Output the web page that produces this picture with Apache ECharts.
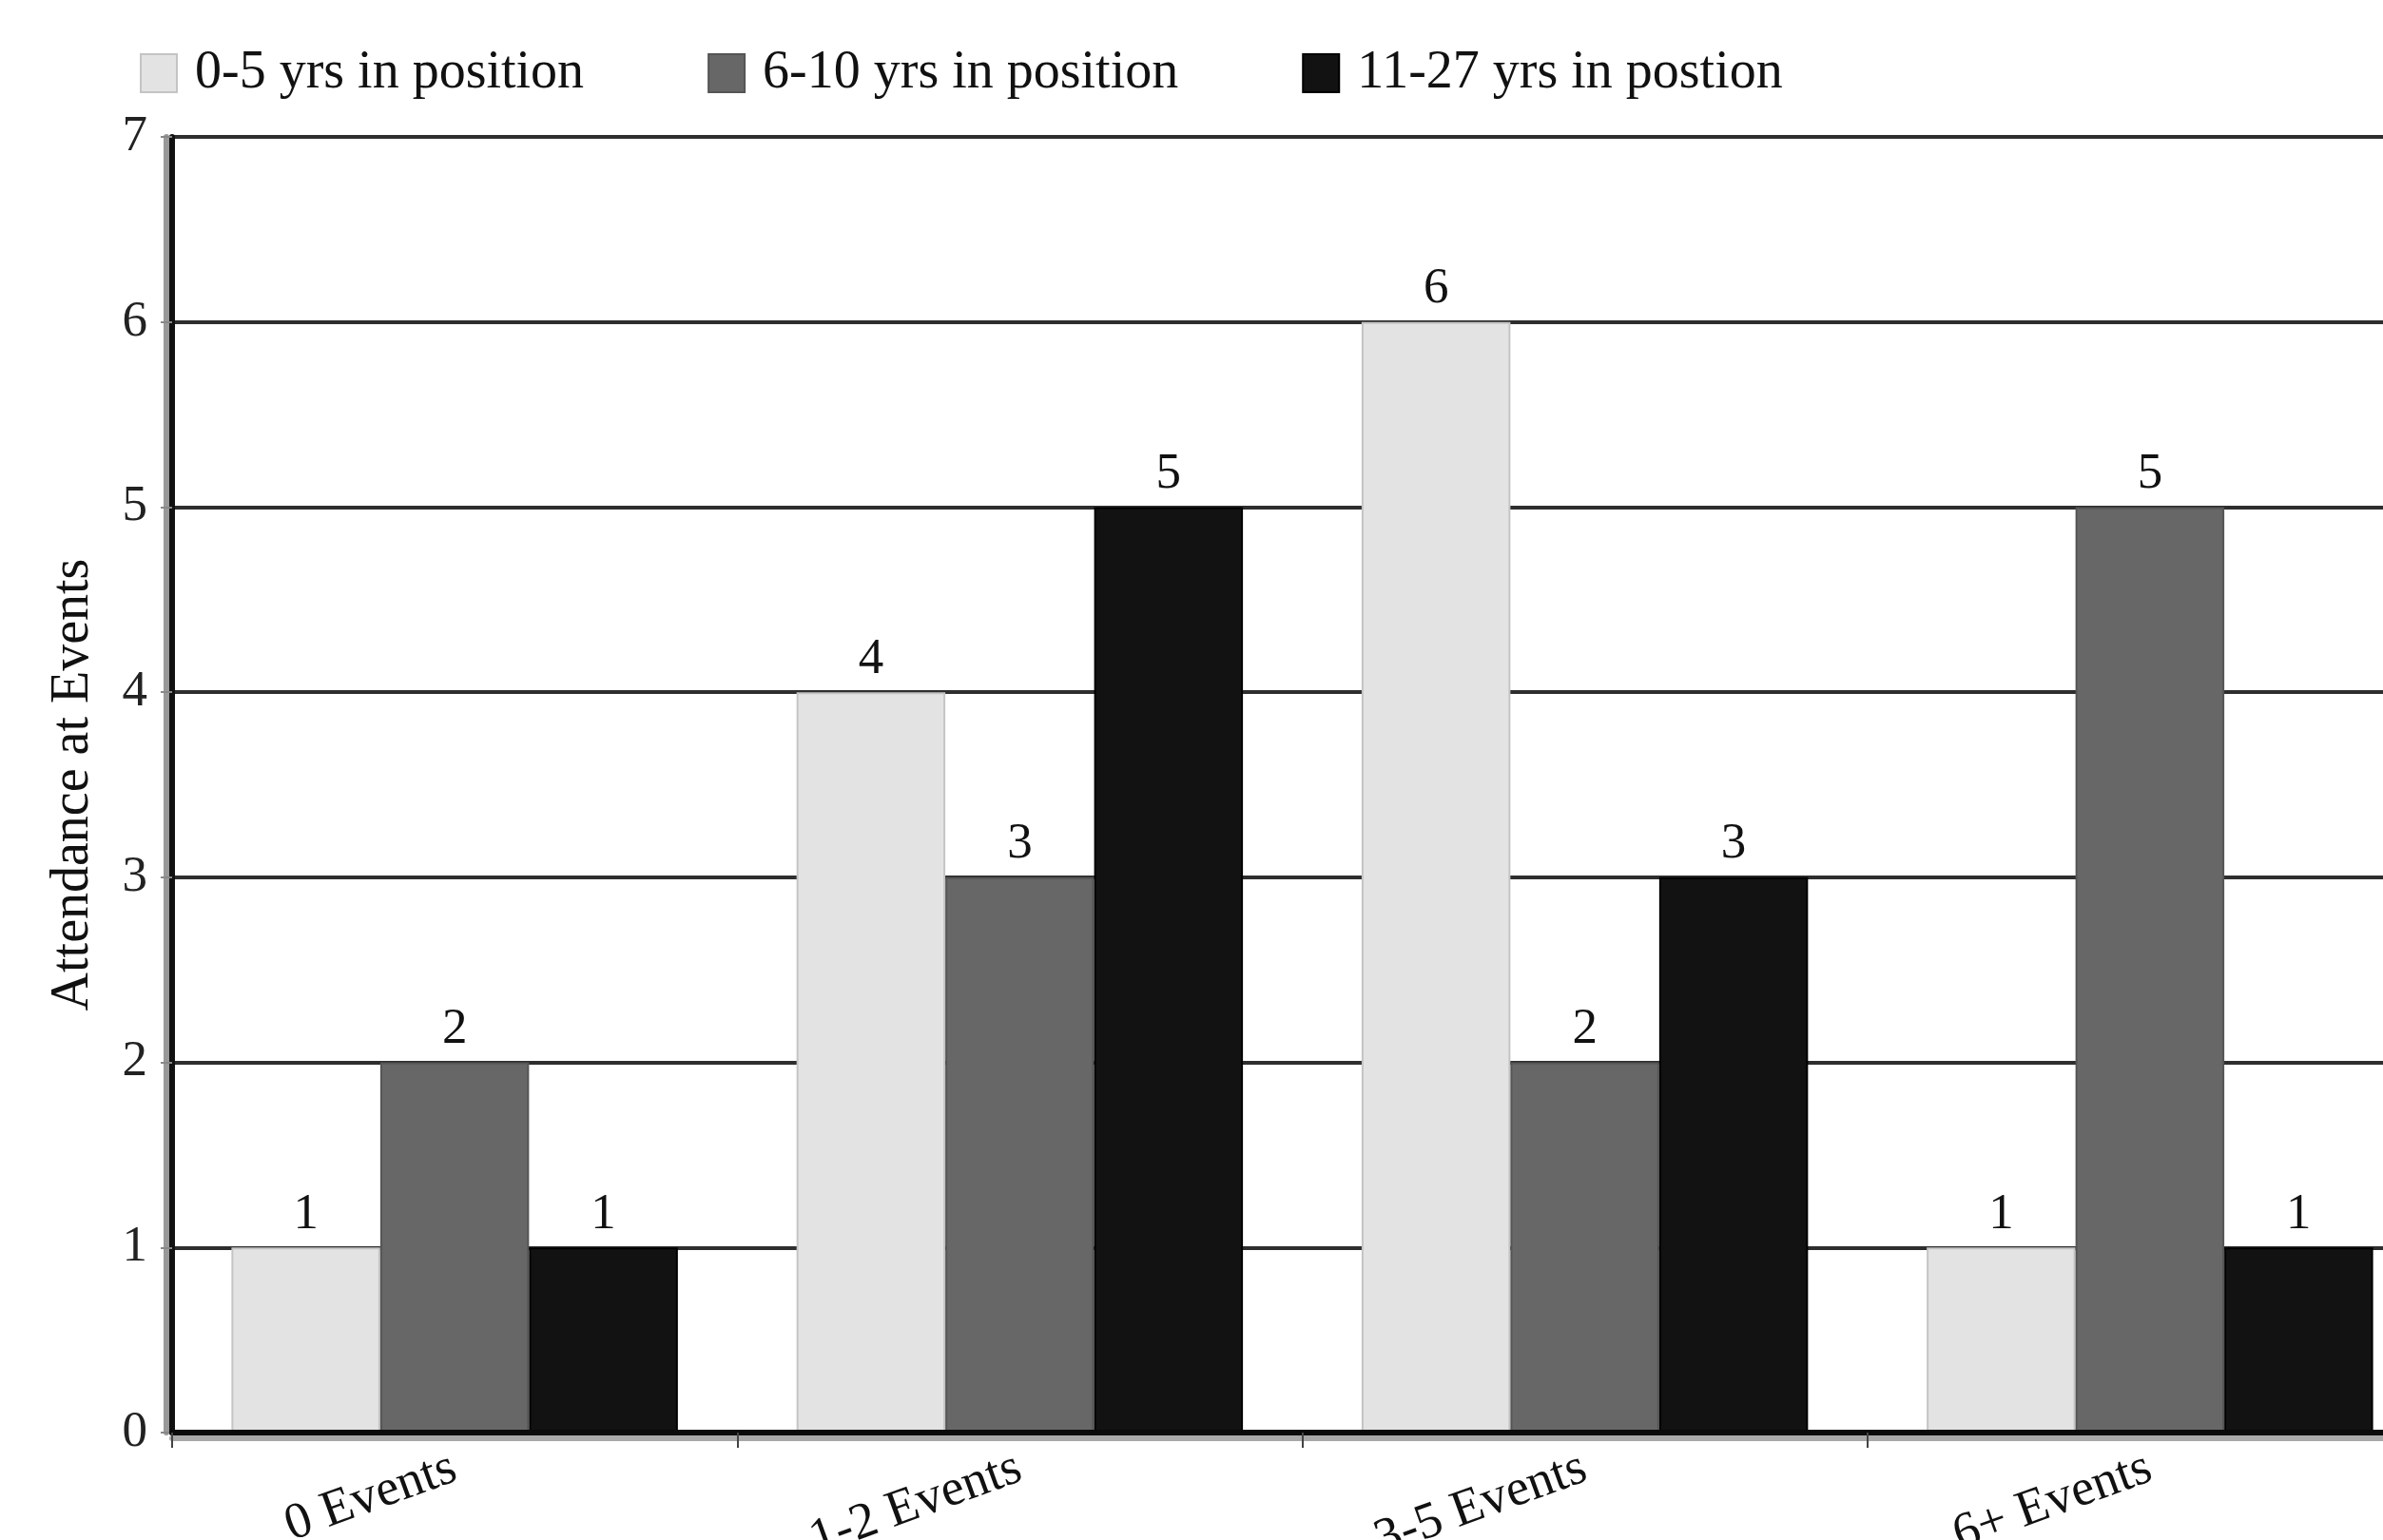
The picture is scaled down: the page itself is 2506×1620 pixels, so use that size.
<!DOCTYPE html>
<html>
<head>
<meta charset="utf-8">
<script src="https://cdn.jsdelivr.net/npm/echarts@6/dist/echarts.min.js"></script>
<style>
html,body{margin:0;padding:0;background:#fff;}
#c{width:2506px;height:1620px;}
</style>
</head>
<body>
<div id="c"></div>
<script>
var categories = ['0 Events', '1-2 Events', '3-5 Events', '6+ Events'];
var seriesNames = ['0-5 yrs in position', '6-10 yrs in position', '11-27 yrs in postion'];
var yrs0to5 = [1, 4, 6, 1];
var yrs6to10 = [2, 3, 2, 5];
var yrs11to27 = [1, 5, 3, 1];
var yTicks = [0, 1, 2, 3, 4, 5, 6, 7];

var FONT = '"Liberation Serif", "DejaVu Serif", serif';
var fills = ['#e3e3e3', '#676767', '#121212'];
var borders = ['#c4c4c4', '#555555', '#000000'];
var values = [yrs0to5, yrs6to10, yrs11to27];

var chart = echarts.init(document.getElementById('c'), null, {renderer: 'canvas'});

var series = values.map(function (vals, i) {
  return {
    name: seriesNames[i],
    type: 'bar',
    data: vals,
    barGap: '0%',
    barCategoryGap: '21%',
    itemStyle: {color: fills[i], borderColor: borders[i], borderWidth: 2},
    label: {
      show: true,
      position: 'top',
      distance: 8,
      fontFamily: FONT,
      fontSize: 53,
      color: '#111'
    },
    emphasis: {disabled: true}
  };
});

chart.setOption({
  animation: false,
  backgroundColor: '#ffffff',
  legend: {
    data: seriesNames,
    left: 142,
    top: 44,
    icon: 'rect',
    itemWidth: 38,
    itemHeight: 40,
    itemGap: 130,
    textStyle: {fontFamily: FONT, fontSize: 56, color: '#111', padding: [0, 0, 0, 14]}
  },
  grid: {left: 181, top: 144, width: 2377, height: 1363, containLabel: false, outerBoundsMode: 'none'},
  xAxis: {
    type: 'category',
    data: categories,
    z: 10,
    axisLine: {show: true, lineStyle: {color: '#0a0a0a', width: 6, shadowColor: '#a8a8a8', shadowOffsetY: 6}},
    axisTick: {show: true, length: 16, interval: 0, lineStyle: {color: '#444', width: 2}},
    axisLabel: {rotate: 20, fontFamily: FONT, fontSize: 54, color: '#111', margin: 36, interval: 0},
    splitLine: {show: false}
  },
  yAxis: {
    type: 'value',
    min: yTicks[0],
    max: yTicks[yTicks.length - 1],
    interval: 1,
    name: 'Attendance at Events',
    nameLocation: 'middle',
    nameGap: 76,
    nameTextStyle: {fontFamily: FONT, fontSize: 56, color: '#111'},
    axisLine: {show: true, lineStyle: {color: '#111', width: 6, shadowColor: '#999', shadowOffsetX: -6}},
    axisTick: {show: true, length: 12, lineStyle: {color: '#888', width: 2}},
    axisLabel: {fontFamily: FONT, fontSize: 53, color: '#222', margin: 26},
    splitLine: {show: true, lineStyle: {color: '#2e2e2e', width: 4}}
  },
  series: series
});
</script>
</body>
</html>
